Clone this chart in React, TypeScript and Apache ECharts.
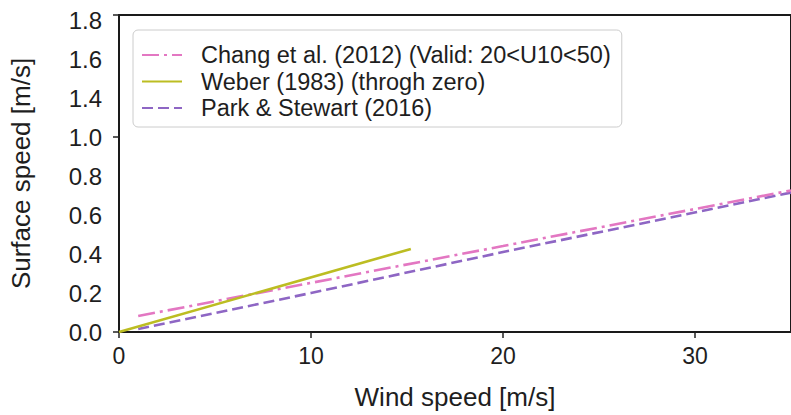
import React, { useEffect, useRef } from "react";
import * as echarts from "echarts";

// Wind speed [m/s] and surface speed [m/s]
const changU = [1, 10, 20, 35];
const changV = [0.082, 0.252, 0.441, 0.726];
const weberU = [0, 15.2];
const weberV = [0, 0.426];
const parkU = [1, 10, 20, 35];
const parkV = [0.015, 0.2, 0.41, 0.715];

const seriesNames = [
  "Chang et al. (2012) (Valid: 20<U10<50)",
  "Weber (1983) (throgh zero)",
  "Park & Stewart (2016)",
];

// Tick labels as printed on the original figure (note: no 1.2)
const yTickLabels = ["0.0", "0.2", "0.4", "0.6", "0.8", "1.0", "1.4", "1.6", "1.8"];
const xTicks = [0, 10, 20, 30];

const FONT = "Liberation Sans, Arial, Helvetica, sans-serif";

const pairs = (xs: number[], ys: number[]) => xs.map((x, i) => [x, ys[i]]);

export default function App() {
  const ref = useRef<HTMLDivElement>(null);
  useEffect(() => {
    if (!ref.current) return;
    const chart = echarts.init(ref.current, undefined, { renderer: "svg" });
    const yMax = 1.626;
    chart.setOption({
      animation: false,
      backgroundColor: "#ffffff",
      textStyle: { fontFamily: FONT },
      grid: {
        left: 118,
        top: 15,
        right: -7,
        bottom: 83,
        show: true,
        borderColor: "#1a1a1a",
        borderWidth: 2,
        backgroundColor: "transparent",
      },
      legend: {
        orient: "vertical",
        left: 133,
        top: 30,
        padding: [13, 11, 7, 8],
        itemWidth: 40,
        itemHeight: 14,
        itemGap: 2.5,
        backgroundColor: "#ffffff",
        borderColor: "#cccccc",
        borderWidth: 1,
        borderRadius: 5,
        itemStyle: { opacity: 0 },
        textStyle: {
          fontSize: 23.5,
          color: "#1e1e1e",
          fontFamily: FONT,
          padding: [0, 0, 0, 14],
        },
        data: seriesNames,
      },
      xAxis: {
        type: "value",
        min: 0,
        max: 35,
        interval: 10,
        name: "Wind speed [m/s]",
        nameLocation: "middle",
        nameGap: 52,
        nameTextStyle: { fontSize: 26, color: "#1e1e1e", fontFamily: FONT },
        axisLine: { show: false },
        axisTick: { show: true, length: 6, lineStyle: { color: "#222", width: 1.5 } },
        axisLabel: {
          fontSize: 23,
          color: "#1e1e1e",
          margin: 12,
          showMaxLabel: false,
          formatter: (v: number) => (xTicks.includes(v) ? String(v) : ""),
        },
        splitLine: { show: false },
      },
      yAxis: [
        {
          type: "value",
          min: 0,
          max: yMax,
          interval: 0.2,
          name: "Surface speed [m/s]",
          nameLocation: "middle",
          nameGap: 85,
          nameTextStyle: { fontSize: 26, color: "#1e1e1e", fontFamily: FONT },
          axisLine: { show: false },
          axisTick: { show: false },
          axisLabel: {
            fontSize: 24,
            color: "#1e1e1e",
            margin: 17,
            showMaxLabel: false,
            formatter: (v: number) => yTickLabels[Math.round(v / 0.2)] ?? "",
          },
          splitLine: { show: false },
        },
        {
          type: "value",
          min: 0,
          max: yMax,
          interval: 1,
          position: "left",
          offset: 0,
          axisLine: { show: false },
          axisTick: { show: true, length: 6, lineStyle: { color: "#222", width: 1.5 } },
          axisLabel: { show: false },
          splitLine: { show: false },
        },
      ],
      series: [
        {
          name: seriesNames[0],
          type: "line",
          symbol: "none",
          data: pairs(changU, changV),
          lineStyle: { color: "#e377c2", width: 2.6, type: [17, 5, 3, 5] },
          itemStyle: { color: "#e377c2" },
          z: 3,
        },
        {
          name: seriesNames[1],
          type: "line",
          symbol: "none",
          data: pairs(weberU, weberV),
          lineStyle: { color: "#bcbd22", width: 2.6, type: "solid" },
          itemStyle: { color: "#bcbd22" },
          z: 4,
        },
        {
          name: seriesNames[2],
          type: "line",
          symbol: "none",
          data: pairs(parkU, parkV),
          lineStyle: { color: "#8e66c4", width: 2.6, type: [11, 5] },
          itemStyle: { color: "#8e66c4" },
          z: 2,
        },
      ],
    });
    return () => chart.dispose();
  }, []);
  return (
    <div
      ref={ref}
      style={{ position: "fixed", left: 0, top: 0, width: 791, height: 415 }}
    />
  );
}
